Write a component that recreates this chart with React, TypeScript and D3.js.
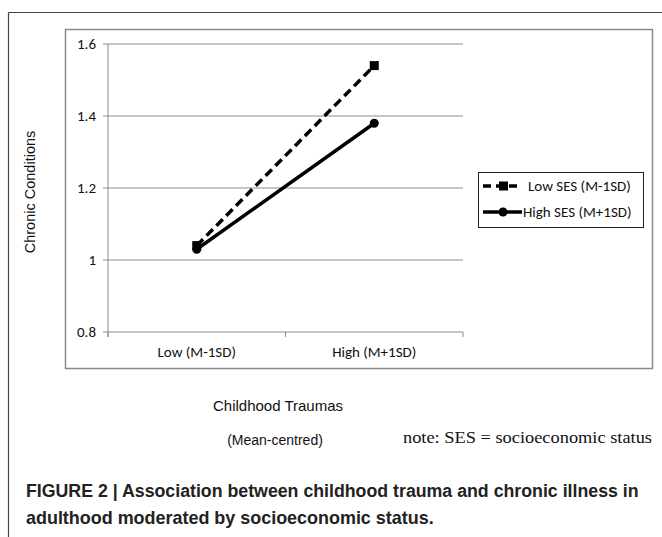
import React, { useLayoutEffect, useRef } from "react";
import * as d3 from "d3";

const categories = ["Low (M-1SD)", "High (M+1SD)"];
const lowSES = [1.04, 1.54];
const highSES = [1.03, 1.38];
const yTicks = [0.8, 1.0, 1.2, 1.4, 1.6];
const seriesNames = ["Low SES (M-1SD)", "High SES (M+1SD)"];
const captionLines = [
  "FIGURE 2 | Association between childhood trauma and chronic illness in",
  "adulthood moderated by socioeconomic status.",
];

const W = 662;
const H = 537;
const plot = { left: 108, right: 463, top: 44, bottom: 332 };

function FitText(props: { x: number; y: number; width: number; children: string; [k: string]: any }) {
  const { x, y, width, children, ...rest } = props;
  const ref = useRef<SVGTextElement>(null);
  useLayoutEffect(() => {
    const el = ref.current;
    if (!el) return;
    el.removeAttribute("transform");
    const len = el.getComputedTextLength();
    if (len > 0) {
      const s = width / len;
      el.setAttribute("transform", `translate(${x},0) scale(${s},1) translate(${-x},0)`);
    }
  }, [x, width, children]);
  return (
    <text ref={ref} x={x} y={y} {...rest}>
      {children}
    </text>
  );
}

export default function App() {
  const x = d3.scaleBand<string>().domain(categories).range([plot.left, plot.right]);
  const y = d3.scaleLinear().domain([0.8, 1.6]).range([plot.bottom, plot.top]);
  const cx = (c: string) => (x(c) as number) + x.bandwidth() / 2;
  const line = d3
    .line<number>()
    .x((_, i) => cx(categories[i]))
    .y((d) => y(d));

  const calibri = "Carlito, Lato, 'Open Sans', sans-serif";
  const arial = "'Liberation Sans', Arial, sans-serif";
  const boundaries = [plot.left, ...categories.map((c) => (x(c) as number) + x.bandwidth())];

  return (
    <svg
      width={W}
      height={H}
      style={{ position: "absolute", left: 0, top: 0, background: "#fff" }}
    >
      {/* outer frame */}
      <line x1={8.5} y1={12.5} x2={W} y2={12.5} stroke="#444" strokeWidth={1.2} />
      <line x1={8.5} y1={12.5} x2={8.5} y2={H} stroke="#444" strokeWidth={1.2} />
      {/* chart box */}
      <rect x={65.5} y={29.5} width={587} height={339} fill="none" stroke="#8a8a8a" strokeWidth={1.5} />

      {/* gridlines */}
      {yTicks.map((t) => (
        <line key={t} x1={plot.left - 5} x2={plot.right} y1={y(t)} y2={y(t)} stroke="#8c8c8c" strokeWidth={1} />
      ))}
      {/* y axis */}
      <line x1={plot.left} x2={plot.left} y1={plot.top} y2={plot.bottom + 5} stroke="#8c8c8c" strokeWidth={1} />
      {boundaries.map((b, i) => (
        <line key={i} x1={b} x2={b} y1={plot.bottom} y2={plot.bottom + 5} stroke="#8c8c8c" strokeWidth={1} />
      ))}
      {yTicks.map((t) => (
        <text
          key={t}
          x={plot.left - 12}
          y={y(t)}
          dy="0.35em"
          textAnchor="end"
          fontFamily={calibri}
          fontSize={15}
          fill="#111"
        >
          {t === 1 ? "1" : t.toFixed(1)}
        </text>
      ))}
      {categories.map((c) => (
        <text key={c} x={cx(c)} y={357} textAnchor="middle" fontFamily={calibri} fontSize={15} fill="#111">
          {c}
        </text>
      ))}

      {/* y label */}
      <text
        transform={`translate(35,${(plot.top + plot.bottom) / 2 + 4}) rotate(-90)`}
        textAnchor="middle"
        fontFamily={arial}
        fontSize={14.5}
        fill="#111"
      >
        Chronic Conditions
      </text>

      {/* series */}
      <path d={line(lowSES) as string} fill="none" stroke="#000" strokeWidth={3.5} strokeDasharray="9,5" />
      <path d={line(highSES) as string} fill="none" stroke="#000" strokeWidth={3.5} />
      {lowSES.map((v, i) => (
        <rect key={i} x={cx(categories[i]) - 4.5} y={y(v) - 4.5} width={9} height={9} fill="#000" />
      ))}
      {highSES.map((v, i) => (
        <circle key={i} cx={cx(categories[i])} cy={y(v)} r={4.5} fill="#000" />
      ))}

      {/* legend */}
      <rect x={478.5} y={172.5} width={165} height={55} fill="#fff" stroke="#222" strokeWidth={1} />
      <line x1={483} x2={522} y1={186} y2={186} stroke="#000" strokeWidth={3.5} strokeDasharray="8,5" />
      <rect x={499} y={181.5} width={9} height={9} fill="#000" />
      <line x1={483} x2={522} y1={212} y2={212} stroke="#000" strokeWidth={3.5} />
      <circle cx={503} cy={212} r={4.5} fill="#000" />
      {seriesNames.map((s, i) => (
        <text key={s} x={i === 0 ? 528 : 523} y={186 + i * 26} dy="0.35em" fontFamily={calibri} fontSize={15} fill="#111">
          {s}
        </text>
      ))}

      {/* x title */}
      <text x={278} y={411} textAnchor="middle" fontFamily={arial} fontSize={15} fill="#111">
        Childhood Traumas
      </text>
      <text x={275} y={445} textAnchor="middle" fontFamily={arial} fontSize={14} fill="#111">
        (Mean-centred)
      </text>
      <text
        x={403}
        y={443}
        fontFamily="'Liberation Serif', 'Times New Roman', serif"
        fontSize={16}
        fill="#111"
        textLength={249}
        lengthAdjust="spacingAndGlyphs"
      >
        note:  SES = socioeconomic status
      </text>

      {/* caption */}
      {captionLines.map((c, i) => (
        <FitText
          key={i}
          x={26}
          y={497 + i * 27}
          width={i === 0 ? 613 : 408}
          fontFamily="'Liberation Sans', Arial, sans-serif"
          fontWeight="bold"
          fontSize={19}
          fill="#222"
        >
          {c}
        </FitText>
      ))}
    </svg>
  );
}
